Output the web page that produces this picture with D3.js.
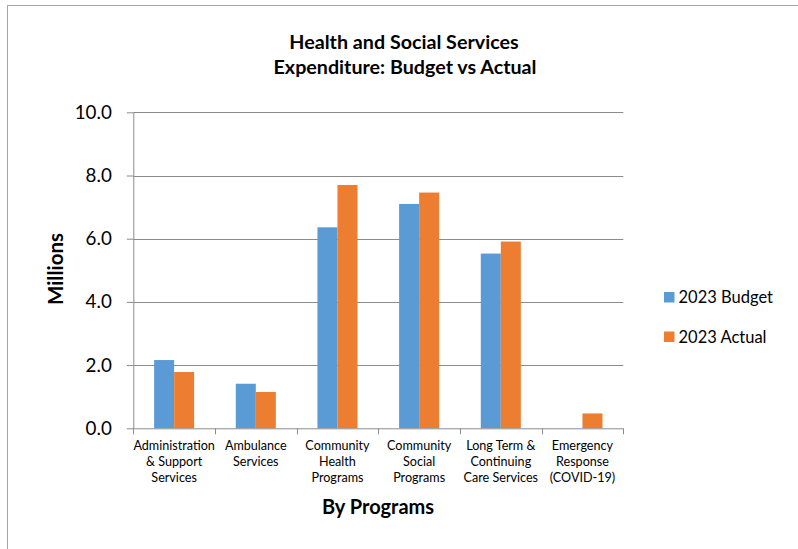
<!DOCTYPE html>
<html>
<head>
<meta charset="utf-8">
<script src="https://cdn.jsdelivr.net/npm/d3@7"></script>
<style>
  html, body { margin: 0; padding: 0; background: #fff; }
  svg text { font-family: Lato, "Open Sans", sans-serif; fill: #000; }
</style>
</head>
<body>
<svg id="chart" width="798" height="549"></svg>
<script>
// Programme categories (multi-line labels)
const categories = [
  ["Administration", "& Support", "Services"],
  ["Ambulance", "Services"],
  ["Community", "Health", "Programs"],
  ["Community", "Social", "Programs"],
  ["Long Term &", "Continuing", "Care Services"],
  ["Emergency", "Response", "(COVID-19)"]
];
const seriesNames = ["2023 Budget", "2023 Actual"];
const budget2023 = [2.16, 1.41, 6.36, 7.10, 5.53, 0];
const actual2023 = [1.78, 1.15, 7.70, 7.46, 5.91, 0.47];
const yTicks = [0, 2, 4, 6, 8, 10];
const colors = ["#5b9bd5", "#ed7d31"];

const svg = d3.select("#chart");
const plot = { left: 133.3, right: 623.3, top: 112.3, bottom: 428.3 };

// outer frame of the chart area
svg.append("rect")
  .attr("x", 7.5).attr("y", 5.5)
  .attr("width", 800).attr("height", 560)
  .attr("fill", "none").attr("stroke", "#a6a6a6").attr("stroke-width", 1);

const catKeys = categories.map((c, i) => i);
const x0 = d3.scaleBand().domain(catKeys).range([plot.left, plot.right]).padding(0);
const x1 = d3.scaleBand().domain(seriesNames).range([0, x0.bandwidth()])
  .paddingInner(0).paddingOuter(1.04);
const y = d3.scaleLinear().domain([0, 10]).range([plot.bottom, plot.top]);

// horizontal gridlines
svg.append("g").selectAll("line").data(yTicks.filter(t => t > 0)).join("line")
  .attr("x1", plot.left).attr("x2", plot.right)
  .attr("y1", d => Math.round(y(d)) + 0.5).attr("y2", d => Math.round(y(d)) + 0.5)
  .attr("stroke", "#8c8c8c").attr("stroke-width", 1);

// bars
const rows = categories.map((c, i) => ({ i, vals: [budget2023[i], actual2023[i]] }));
const groups = svg.append("g").selectAll("g").data(rows).join("g")
  .attr("transform", d => `translate(${x0(d.i)},0)`);
groups.selectAll("rect").data(d => d.vals.map((v, k) => ({ v, k }))).join("rect")
  .attr("x", d => x1(seriesNames[d.k]))
  .attr("width", x1.bandwidth())
  .attr("y", d => y(d.v))
  .attr("height", d => y(0) - y(d.v))
  .attr("fill", d => colors[d.k]);

// y axis
const yAxis = d3.axisLeft(y).tickValues(yTicks).tickFormat(d3.format(".1f"))
  .tickSizeInner(6.5).tickSizeOuter(0).tickPadding(15);
const gy = svg.append("g").attr("transform", `translate(${plot.left},0)`).call(yAxis);
gy.select(".domain").attr("stroke", "#8c8c8c");
gy.selectAll(".tick line").attr("stroke", "#8c8c8c");
gy.selectAll(".tick text").attr("font-size", 18.8).attr("fill", "#000")
  .style("font-family", "Lato, sans-serif");

// x axis: tick marks at category boundaries
const gx = svg.append("g");
gx.append("line").attr("x1", plot.left).attr("x2", plot.right)
  .attr("y1", plot.bottom + 0.5).attr("y2", plot.bottom + 0.5)
  .attr("stroke", "#8c8c8c");
const bounds = catKeys.map(i => x0(i)).concat([plot.right]);
gx.selectAll("line.tk").data(bounds).join("line").attr("class", "tk")
  .attr("x1", d => Math.round(d) + 0.5).attr("x2", d => Math.round(d) + 0.5)
  .attr("y1", plot.bottom).attr("y2", plot.bottom + 6)
  .attr("stroke", "#8c8c8c");
const labels = gx.selectAll("text.cat").data(rows).join("text").attr("class", "cat")
  .attr("text-anchor", "middle").attr("font-size", 12.6)
  .attr("x", d => x0(d.i) + x0.bandwidth() / 2);
labels.selectAll("tspan").data(d => categories[d.i]).join("tspan")
  .attr("x", function () { return d3.select(this.parentNode).attr("x"); })
  .attr("y", (d, j) => 449.5 + j * 16)
  .text(d => d);

// titles
const title = svg.append("text").attr("text-anchor", "middle")
  .attr("font-size", 19.7).attr("font-weight", "bold");
title.append("tspan").attr("x", 404).attr("y", 49).text("Health and Social Services");
title.append("tspan").attr("x", 405).attr("y", 74).text("Expenditure: Budget vs Actual");

svg.append("text").attr("text-anchor", "middle")
  .attr("font-size", 20).attr("font-weight", "bold")
  .attr("x", 378).attr("y", 514).text("By Programs");

svg.append("text").attr("text-anchor", "middle")
  .attr("font-size", 20.5).attr("font-weight", "bold")
  .attr("transform", "translate(63,269) rotate(-90)").text("Millions");

// legend
const legend = svg.append("g").selectAll("g").data(seriesNames).join("g")
  .attr("transform", (d, i) => `translate(664,${292 + i * 39.5})`);
legend.append("rect").attr("width", 10.5).attr("height", 10.5)
  .attr("fill", (d, i) => colors[i]);
legend.append("text").attr("x", 14.5).attr("y", 11.3).attr("font-size", 16.5).text(d => d);
</script>
</body>
</html>
